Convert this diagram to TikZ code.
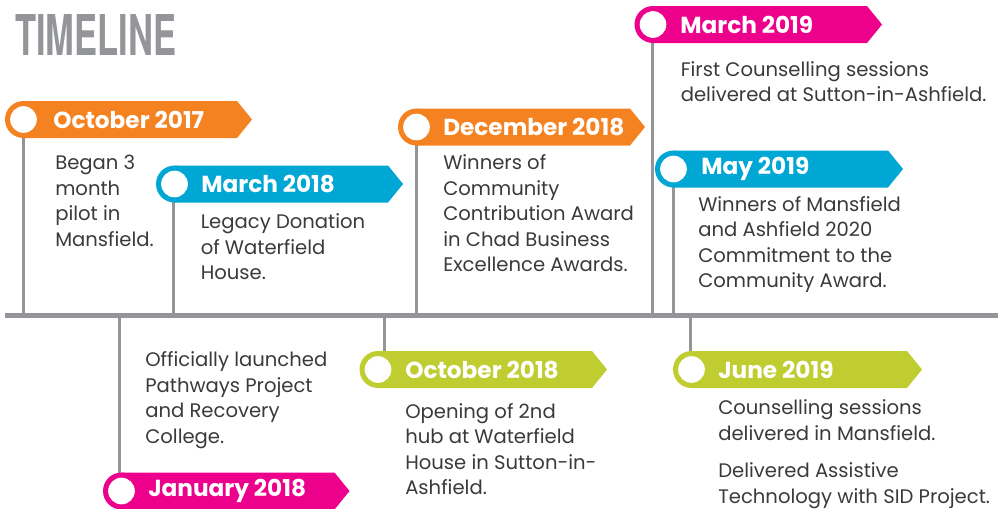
\documentclass[tikz,border=0pt]{standalone}
\usepackage{fontspec}
\setmainfont{Poppins}
\newfontfamily\titlefont{TeX Gyre Heros}
\usetikzlibrary{backgrounds}

\definecolor{tlOrange}{HTML}{F58220}
\definecolor{tlCyan}{HTML}{00A7D5}
\definecolor{tlMagenta}{HTML}{EC008C}
\definecolor{tlLime}{HTML}{BFCD31}
\definecolor{tlGray}{HTML}{939598}
\definecolor{tlText}{HTML}{3A3A3A}

\tikzset{
	timeline/.style={draw=tlGray, line width=4.1pt},
	stem/.style={draw=tlGray, line width=2.25pt},
	dot/.style={circle, fill=white, minimum size=20pt, inner sep=0pt},
	datetext/.style={anchor=west, inner sep=0pt, text=white, font=\fontsize{17.4}{20}\selectfont\bfseries},
	bodytext/.style={anchor=base west, inner sep=0pt, align=left, text=tlText, font=\fontsize{14.7}{19.2}\selectfont}
}

\begin{document}
\begin{tikzpicture}[x=0.75pt, y=-0.75pt]
		
		\useasboundingbox (0,0) rectangle (998,508);
		
		%Title
		\node (title) at (15,14) [anchor=north west, inner sep=0pt, text=tlGray]{\resizebox{120.75pt}{30.75pt}{\titlefont\bfseries TIMELINE}};
		
		%Timeline
		\coordinate (lineStart) at (5,315.5);
		\coordinate (lineEnd) at (998,315.5);
		\draw[timeline] (lineStart) -- (lineEnd);
		
		%Banners above the line
		\fill[tlOrange] (23.5,101) -- (237,101) -- (252,119.5) -- (237,138) -- (23.5,138) -- cycle;
		\fill[tlOrange] (23.5,119.5) circle (13.875pt);
		\node (circleOct17) at (23.5,119.5) [dot]{};
		\node (dateOct17) at (53,119.5) [datetext]{October 2017};
		
		\fill[tlCyan] (174.5,165.5) -- (388,165.5) -- (403,184) -- (388,202.5) -- (174.5,202.5) -- cycle;
		\fill[tlCyan] (174.5,184) circle (13.875pt);
		\node (circleMar18) at (174.5,184) [dot]{};
		\node (dateMar18) at (201,184) [datetext]{March 2018};
		
		\fill[tlOrange] (416.5,108.5) -- (630,108.5) -- (645,127) -- (630,145.5) -- (416.5,145.5) -- cycle;
		\fill[tlOrange] (416.5,127) circle (13.875pt);
		\node (circleDec18) at (416.5,127) [dot]{};
		\node (dateDec18) at (443,127) [datetext]{December 2018};
		
		\fill[tlMagenta] (653,6) -- (867,6) -- (882,24.5) -- (867,43) -- (653,43) -- cycle;
		\fill[tlMagenta] (653,24.5) circle (13.875pt);
		\node (circleMar19) at (653,24.5) [dot]{};
		\node (dateMar19) at (680,24.5) [datetext]{March 2019};
		
		\fill[tlCyan] (673.5,150.5) -- (888,150.5) -- (903,169) -- (888,187.5) -- (673.5,187.5) -- cycle;
		\fill[tlCyan] (673.5,169) circle (13.875pt);
		\node (circleMay19) at (673.5,169) [dot]{};
		\node (dateMay19) at (701,169) [datetext]{May 2019};
		
		%Banners below the line
		\fill[tlMagenta] (121.5,472.5) -- (334.5,472.5) -- (349.5,491) -- (334.5,509.5) -- (121.5,509.5) -- cycle;
		\fill[tlMagenta] (121.5,491) circle (13.875pt);
		\node (circleJan18) at (121.5,491) [dot]{};
		\node (dateJan18) at (148,491) [datetext]{January 2018};
		
		\fill[tlLime] (378,351) -- (592,351) -- (607,369.5) -- (592,388) -- (378,388) -- cycle;
		\fill[tlLime] (378,369.5) circle (13.875pt);
		\node (circleOct18) at (378,369.5) [dot]{};
		\node (dateOct18) at (405,369.5) [datetext]{October 2018};
		
		\fill[tlLime] (691.5,351) -- (907,351) -- (922,369.5) -- (907,388) -- (691.5,388) -- cycle;
		\fill[tlLime] (691.5,369.5) circle (13.875pt);
		\node (circleJun19) at (691.5,369.5) [dot]{};
		\node (dateJun19) at (718,369.5) [datetext]{June 2019};
		
		%Stems
		\begin{pgfonlayer}{background}
		\draw[stem] (circleOct17.center) -- (circleOct17.center |- lineStart);
		\draw[stem] ([xshift=-0.75pt]circleMar18.center) -- ([xshift=-0.75pt]circleMar18.center |- lineStart);
		\draw[stem] (circleDec18.center) -- (circleDec18.center |- lineStart);
		\draw[stem] ([xshift=-0.75pt]circleMar19.center) -- ([xshift=-0.75pt]circleMar19.center |- lineStart);
		\draw[stem] (circleMay19.center) -- (circleMay19.center |- lineStart);
		\draw[stem] ([xshift=-1.5pt]circleJan18.center) -- ([xshift=-1.5pt]circleJan18.center |- lineStart);
		\draw[stem] ([xshift=4.5pt]circleOct18.center) -- ([xshift=4.5pt]circleOct18.center |- lineStart);
		\draw[stem] ([xshift=-1pt]circleJun19.center) -- ([xshift=-1pt]circleJun19.center |- lineStart);
		\end{pgfonlayer}
		
		%Texts (anchored on the baseline of the last line)
		\node (textOct17) at (55,246.3) [bodytext]{Began 3\\month\\pilot in\\Mansfield.};
		\node (textMar18) at (200.5,279.7) [bodytext]{Legacy Donation\\of Waterfield\\House.};
		\node (textDec18) at (443,271.9) [bodytext]{Winners of\\Community\\Contribution Award\\in Chad Business\\Excellence Awards.};
		\node (textMar19) at (680.5,101.6) [bodytext]{First Counselling sessions\\delivered at Sutton-in-Ashfield.};
		\node (textMay19) at (698,287.8) [bodytext]{Winners of Mansfield\\and Ashfield 2020\\Commitment to the\\Community Award.};
		\node (textJan18) at (145,443.3) [bodytext]{Officially launched\\Pathways Project\\and Recovery\\College.};
		\node (textOct18) at (405,494.8) [bodytext]{Opening of 2nd\\hub at Waterfield\\House in Sutton-in-\\Ashfield.};
		\node (textJun19) at (718,503.1) [bodytext]{Counselling sessions\\delivered in Mansfield.\\[8.5pt]Delivered Assistive\\Technology with SID Project.};
		
\end{tikzpicture}
\end{document}
